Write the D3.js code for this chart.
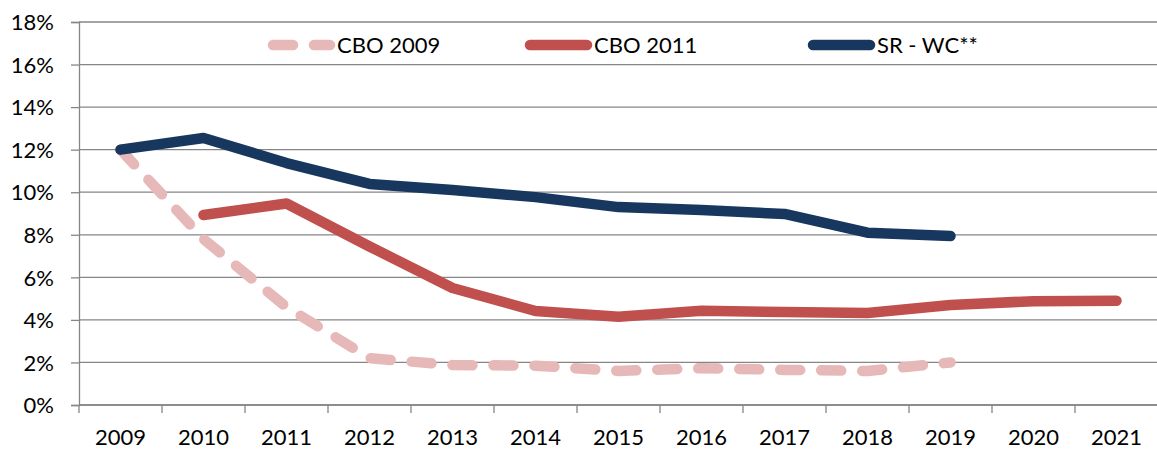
<!DOCTYPE html>
<html>
<head>
<meta charset="utf-8">
<script src="https://cdn.jsdelivr.net/npm/d3@7"></script>
<style>
  body { margin: 0; background: #fff; }
  text { font-family: Lato, "Open Sans", sans-serif; fill: #000; }
</style>
</head>
<body>
<div class="chart"></div>
<script>
// data
const years = ["2009","2010","2011","2012","2013","2014","2015","2016","2017","2018","2019","2020","2021"];
const cbo2009 = [12.0, 7.8, 4.6, 2.2, 1.88, 1.85, 1.6, 1.73, 1.65, 1.6, 2.0, null, null];
const cbo2011 = [null, 8.93, 9.47, 7.45, 5.5, 4.42, 4.15, 4.43, 4.37, 4.32, 4.7, 4.88, 4.9];
const srwc = [12.0, 12.55, 11.37, 10.39, 10.1, 9.77, 9.3, 9.16, 8.98, 8.1, 7.94, null, null];
const yTicks = [0, 2, 4, 6, 8, 10, 12, 14, 16, 18];

const seriesList = [
  {name: "CBO 2009", values: cbo2009, color: "#E6B9B8", dash: "20,21", lx: 268},
  {name: "CBO 2011", values: cbo2011, color: "#C0504D", dash: null, lx: 525},
  {name: "SR - WC**", values: srwc, color: "#17375E", dash: null, lx: 808}
];

// dimensions
const W = 1157, H = 451;
const margin = {top: 22, right: 0, bottom: 46, left: 79};
const plotW = 1079, plotH = H - margin.top - margin.bottom;

const svg = d3.select(".chart")
  .append("svg")
    .attr("width", W)
    .attr("height", H)
  .append("g")
    .attr("transform", `translate(${margin.left}, ${margin.top})`);

const x = d3.scaleBand().domain(years).range([0, plotW]);
const y = d3.scaleLinear().domain([0, 18]).range([plotH, 0]);

// gridlines
svg.selectAll(".grid")
  .data(yTicks)
  .join("line")
    .attr("x1", 0).attr("x2", plotW)
    .attr("y1", d => y(d)).attr("y2", d => y(d))
    .attr("stroke", "#868686").attr("stroke-width", 1.3);

// Y axis
const yAxis = svg.append("g")
  .call(d3.axisLeft(y).tickValues(yTicks).tickFormat(d => d + "%").tickSize(8).tickPadding(17));
yAxis.select(".domain").attr("stroke", "#868686").attr("stroke-width", 1.3);
yAxis.selectAll(".tick line").attr("stroke", "#868686").attr("stroke-width", 1.3);
yAxis.selectAll("text").style("font-size", "22px").attr("dy", "0.35em");

// X axis (ticks between categories)
const xAxis = svg.append("g")
  .attr("transform", `translate(0, ${plotH})`)
  .call(d3.axisBottom(x).tickSize(0).tickPadding(24));
xAxis.select(".domain").remove();
xAxis.selectAll("text").style("font-size", "22px");
svg.append("g")
  .selectAll("line")
  .data(years.concat(["end"]))
  .join("line")
    .attr("x1", (d, i) => i * x.step()).attr("x2", (d, i) => i * x.step())
    .attr("y1", plotH).attr("y2", plotH + 8)
    .attr("stroke", "#868686").attr("stroke-width", 1.3);
svg.append("line")
  .attr("x1", 0).attr("x2", plotW)
  .attr("y1", plotH).attr("y2", plotH)
  .attr("stroke", "#868686").attr("stroke-width", 1.3);

// lines
const line = d3.line()
  .defined(d => d != null)
  .x((d, i) => x(years[i]) + x.bandwidth() / 2)
  .y(d => y(d));

seriesList.forEach(s => {
  svg.append("path")
    .datum(s.values)
    .attr("fill", "none")
    .attr("stroke", s.color)
    .attr("stroke-width", 10.5)
    .attr("stroke-linecap", "round")
    .attr("stroke-linejoin", "round")
    .attr("stroke-dasharray", s.dash)
    .attr("d", line);
});

// legend
const legend = svg.append("g").attr("transform", `translate(${-margin.left}, ${45 - margin.top})`);
seriesList.forEach(s => {
  legend.append("line")
    .attr("x1", s.lx + 5).attr("x2", s.lx + 62)
    .attr("y1", 0).attr("y2", 0)
    .attr("stroke", s.color)
    .attr("stroke-width", 10.5)
    .attr("stroke-linecap", "round")
    .attr("stroke-dasharray", s.dash);
  legend.append("text")
    .attr("x", s.lx + 69)
    .attr("y", 0)
    .attr("dy", "0.35em")
    .style("font-size", "22px")
    .text(s.name);
});
</script>
</body>
</html>
